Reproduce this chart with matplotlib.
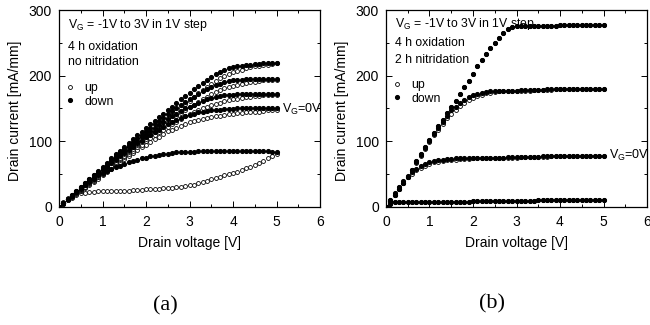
import numpy as np
import matplotlib.pyplot as plt
from matplotlib.lines import Line2D
from matplotlib.ticker import MultipleLocator

plt.rcParams['font.family'] = ['Liberation Sans', 'DejaVu Sans']
plt.rcParams['mathtext.fontset'] = 'custom'
plt.rcParams['mathtext.rm'] = 'Liberation Sans'

# drain voltage sweep [V]
v_drain = [0.0, 0.1, 0.2, 0.3, 0.4, 0.5, 0.6, 0.7, 0.8, 0.9,
           1.0, 1.1, 1.2, 1.3, 1.4, 1.5, 1.6, 1.7, 1.8, 1.9,
           2.0, 2.1, 2.2, 2.3, 2.4, 2.5, 2.6, 2.7, 2.8, 2.9,
           3.0, 3.1, 3.2, 3.3, 3.4, 3.5, 3.6, 3.7, 3.8, 3.9,
           4.0, 4.1, 4.2, 4.3, 4.4, 4.5, 4.6, 4.7, 4.8, 4.9, 5.0]

# (a) 4 h oxidation, no nitridation  -- drain current [mA/mm]
a_down_3 = [0, 6, 12, 18, 24, 30, 36, 43, 49, 55, 61, 67, 74, 80, 86, 92, 98, 103, 109, 114,
            120, 126, 131, 137, 142, 148, 153, 158, 164, 169, 174, 179, 184, 189, 194, 198, 202,
            205, 208, 211, 213, 214, 215, 216, 217, 218, 218, 219, 219, 220, 220]
a_up_3 = [0, 5, 10, 16, 21, 26, 31, 36, 42, 47, 52, 58, 63, 69, 74, 80, 85, 91, 96, 102,
          107, 113, 118, 124, 129, 135, 140, 146, 151, 157, 162, 167, 173, 178, 183, 188, 192,
          196, 199, 202, 205, 207, 209, 211, 213, 214, 215, 216, 217, 218, 219]
a_down_2 = [0, 6, 12, 18, 24, 30, 36, 42, 48, 54, 60, 66, 72, 78, 83, 89, 94, 99, 105, 110,
            115, 120, 126, 131, 136, 141, 146, 151, 155, 160, 164, 168, 172, 176, 180, 183, 186,
            188, 190, 192, 193, 194, 194, 195, 195, 195, 195, 195, 195, 195, 195]
a_up_2 = [0, 5, 10, 15, 21, 26, 31, 36, 41, 46, 51, 56, 62, 67, 73, 78, 83, 88, 94, 99,
          104, 109, 114, 119, 124, 129, 134, 139, 143, 148, 152, 156, 160, 164, 168, 172, 175,
          178, 181, 183, 185, 186, 188, 189, 190, 191, 192, 193, 193, 194, 194]
a_down_1 = [0, 6, 12, 17, 23, 29, 35, 41, 46, 52, 58, 64, 69, 75, 80, 86, 91, 96, 101, 106,
            111, 116, 121, 125, 130, 134, 138, 142, 146, 150, 153, 156, 159, 162, 164, 166, 168,
            169, 170, 171, 171, 172, 172, 172, 172, 172, 172, 172, 172, 172, 172]
a_up_1 = [0, 5, 10, 15, 20, 25, 30, 35, 40, 45, 50, 55, 60, 66, 71, 76, 81, 86, 91, 95,
          100, 105, 109, 114, 118, 122, 126, 130, 134, 138, 141, 144, 147, 150, 153, 155, 157,
          159, 161, 163, 164, 165, 166, 167, 168, 169, 169, 170, 170, 171, 171]
a_down_0 = [0, 6, 12, 17, 23, 29, 34, 40, 45, 51, 56, 61, 67, 72, 77, 82, 87, 92, 97, 101,
            106, 110, 114, 118, 122, 126, 129, 132, 135, 138, 140, 142, 144, 145, 146, 147, 148,
            148, 149, 149, 149, 150, 150, 150, 150, 150, 150, 150, 150, 150, 150]
a_up_0 = [0, 5, 10, 14, 19, 24, 29, 34, 38, 43, 48, 53, 58, 63, 68, 73, 78, 82, 87, 91,
          95, 99, 103, 107, 111, 115, 118, 121, 124, 127, 129, 131, 133, 134, 136, 137, 138,
          139, 140, 141, 142, 143, 143, 144, 144, 145, 145, 146, 147, 147, 148]
a_down_m1 = [0, 6, 12, 17, 23, 28, 33, 38, 43, 48, 52, 55, 58, 61, 63, 65, 68, 70, 72, 74,
             75, 77, 78, 79, 80, 81, 82, 83, 83, 84, 84, 84, 85, 85, 85, 85, 85, 85, 85, 85,
             85, 85, 85, 85, 85, 85, 85, 85, 85, 84, 83]
a_up_m1 = [0, 8, 14, 18, 20, 22, 22, 23, 23, 24, 24, 24, 24, 25, 25, 25, 25, 26, 26, 26,
           27, 27, 28, 28, 29, 29, 29, 30, 31, 32, 33, 34, 36, 38, 40, 42, 44, 46, 48, 50,
           52, 54, 56, 59, 61, 64, 67, 70, 74, 77, 81]

# (b) 4 h oxidation, 2 h nitridation
b_down_2 = [0, 9, 19, 28, 37, 46, 57, 70, 80, 91, 102, 112, 123, 133, 143, 152, 162, 172, 182, 192,
            203, 214, 224, 233, 242, 250, 258, 265, 271, 274, 276, 276, 276, 276, 276, 276, 276,
            276, 276, 276, 277, 277, 277, 277, 277, 277, 277, 277, 277, 277, 277]
b_up_2 = [0, 9, 19, 28, 37, 46, 57, 70, 80, 91, 102, 112, 123, 133, 143, 152, 162, 172, 182, 192,
          203, 214, 224, 233, 242, 250, 258, 265, 271, 274, 276, 276, 276, 276, 276, 276, 276,
          276, 276, 276, 277, 277, 277, 277, 277, 277, 277, 277, 277, 277, 277]
b_down_1 = [0, 9, 19, 28, 37, 46, 57, 68, 79, 90, 101, 111, 121, 130, 139, 147, 153, 158, 163, 167,
            170, 172, 174, 175, 176, 176, 177, 177, 177, 177, 177, 178, 178, 178, 178, 178, 178,
            179, 179, 179, 179, 179, 179, 179, 180, 180, 180, 180, 180, 180, 180]
b_up_1 = [0, 9, 19, 28, 37, 46, 56, 67, 78, 89, 99, 109, 118, 127, 135, 142, 148, 154, 159, 163,
          166, 169, 171, 173, 174, 175, 176, 176, 176, 177, 177, 177, 177, 177, 178, 178, 178,
          178, 178, 179, 179, 179, 179, 179, 179, 180, 180, 180, 180, 180, 180]
b_down_0 = [0, 10, 21, 31, 40, 47, 53, 58, 62, 65, 68, 70, 71, 72, 73, 73, 74, 74, 74, 74,
            75, 75, 75, 75, 75, 75, 75, 75, 76, 76, 76, 76, 76, 76, 76, 76, 77, 77, 77, 77,
            77, 77, 77, 77, 77, 78, 78, 78, 78, 78, 78]
b_up_0 = [0, 10, 20, 30, 38, 45, 51, 56, 60, 63, 66, 68, 69, 70, 71, 72, 72, 73, 73, 73,
          74, 74, 74, 74, 74, 75, 75, 75, 75, 75, 75, 76, 76, 76, 76, 76, 76, 76, 77, 77,
          77, 77, 77, 77, 77, 77, 78, 78, 78, 78, 78]
b_down_m1 = [0, 5, 7, 8, 8, 8, 8, 8, 8, 8, 8, 8, 8, 8, 8, 8, 8, 8, 8, 8,
             9, 9, 9, 9, 9, 9, 9, 9, 9, 9, 9, 9, 9, 9, 9, 10, 10, 10, 10, 10,
             10, 10, 10, 10, 10, 10, 10, 10, 10, 10, 10]
b_up_m1 = [0, 5, 7, 8, 8, 8, 8, 8, 8, 8, 8, 8, 8, 8, 8, 8, 8, 8, 8, 8,
           9, 9, 9, 9, 9, 9, 9, 9, 9, 9, 9, 9, 9, 9, 9, 10, 10, 10, 10, 10,
           10, 10, 10, 10, 10, 10, 10, 10, 10, 10, 10]

a_ups = [a_up_m1, a_up_0, a_up_1, a_up_2, a_up_3]
a_downs = [a_down_m1, a_down_0, a_down_1, a_down_2, a_down_3]
b_ups = [b_up_m1, b_up_0, b_up_1, b_up_2]
b_downs = [b_down_m1, b_down_0, b_down_1, b_down_2]

a_notes = ['4 h oxidation', 'no nitridation']
b_notes = ['4 h oxidation', '2 h nitridation']
vg_text = r'V$_\mathrm{G}$ = -1V to 3V in 1V step'
vg0_text = r'V$_\mathrm{G}$=0V'

W, H = 650, 325
fig = plt.figure(figsize=(6.5, 3.25), dpi=100)
ax_a = fig.add_axes([59 / W, 1 - 207 / H, 261 / W, 197 / H])
ax_b = fig.add_axes([386 / W, 1 - 207 / H, 261 / W, 197 / H])


def draw_panel(ax, ups, downs, notes, vg0_y, ys):
    for u in ups:
        ax.plot(v_drain, u, 'o', ls='none', ms=2.8, mfc='white', mec='black', mew=0.6)
    for d in downs:
        ax.plot(v_drain, d, 'o', ls='none', ms=2.7, color='black')

    ax.set_xlim(0, 6)
    ax.set_ylim(0, 300)
    ax.xaxis.set_major_locator(MultipleLocator(1))
    ax.xaxis.set_minor_locator(MultipleLocator(0.5))
    ax.yaxis.set_major_locator(MultipleLocator(100))
    ax.yaxis.set_minor_locator(MultipleLocator(50))
    ax.tick_params(which='both', direction='in', top=True, right=True, width=0.7)
    ax.tick_params(which='major', length=4, labelsize=10)
    ax.tick_params(which='minor', length=2)
    ax.tick_params(axis='x', pad=6)
    ax.tick_params(axis='y', pad=5)
    for s in ax.spines.values():
        s.set_linewidth(0.9)

    ax.text(0.5, -0.183, 'Drain voltage [V]', transform=ax.transAxes,
            ha='center', va='center', fontsize=10)
    ax.text(-0.17, 0.49, 'Drain current [mA/mm]', transform=ax.transAxes,
            ha='center', va='center', rotation=90, fontsize=10)

    ax.text(0.034, ys[0], vg_text, transform=ax.transAxes, ha='left', va='center', fontsize=8.8)
    ax.text(0.034, ys[1], notes[0], transform=ax.transAxes, ha='left', va='center', fontsize=8.8)
    ax.text(0.034, ys[2], notes[1], transform=ax.transAxes, ha='left', va='center', fontsize=8.8)

    handles = [Line2D([], [], marker='o', ls='none', ms=2.8, mfc='white', mec='black', mew=0.6),
               Line2D([], [], marker='o', ls='none', ms=2.7, color='black')]
    ax.legend(handles, ['up', 'down'], loc='upper left', bbox_to_anchor=(0.0, ys[3]),
              frameon=False, fontsize=8.8, handlelength=0.8, handletextpad=0.8,
              labelspacing=0.12, borderaxespad=0.3, borderpad=0.2)

    ax.text(5.12, vg0_y, vg0_text, ha='left', va='center', fontsize=9)


draw_panel(ax_a, a_ups, a_downs, a_notes, 148, [0.924, 0.814, 0.738, 0.665])
draw_panel(ax_b, b_ups, b_downs, b_notes, 78, [0.929, 0.83, 0.746, 0.68])

fig.text(165 / W, 1 - 306 / H, '(a)', ha='center', va='center', fontsize=16,
         family=['Liberation Serif', 'DejaVu Serif'])
fig.text(492 / W, 1 - 304 / H, '(b)', ha='center', va='center', fontsize=16,
         family=['Liberation Serif', 'DejaVu Serif'])

fig.savefig('out.png', dpi=100)
